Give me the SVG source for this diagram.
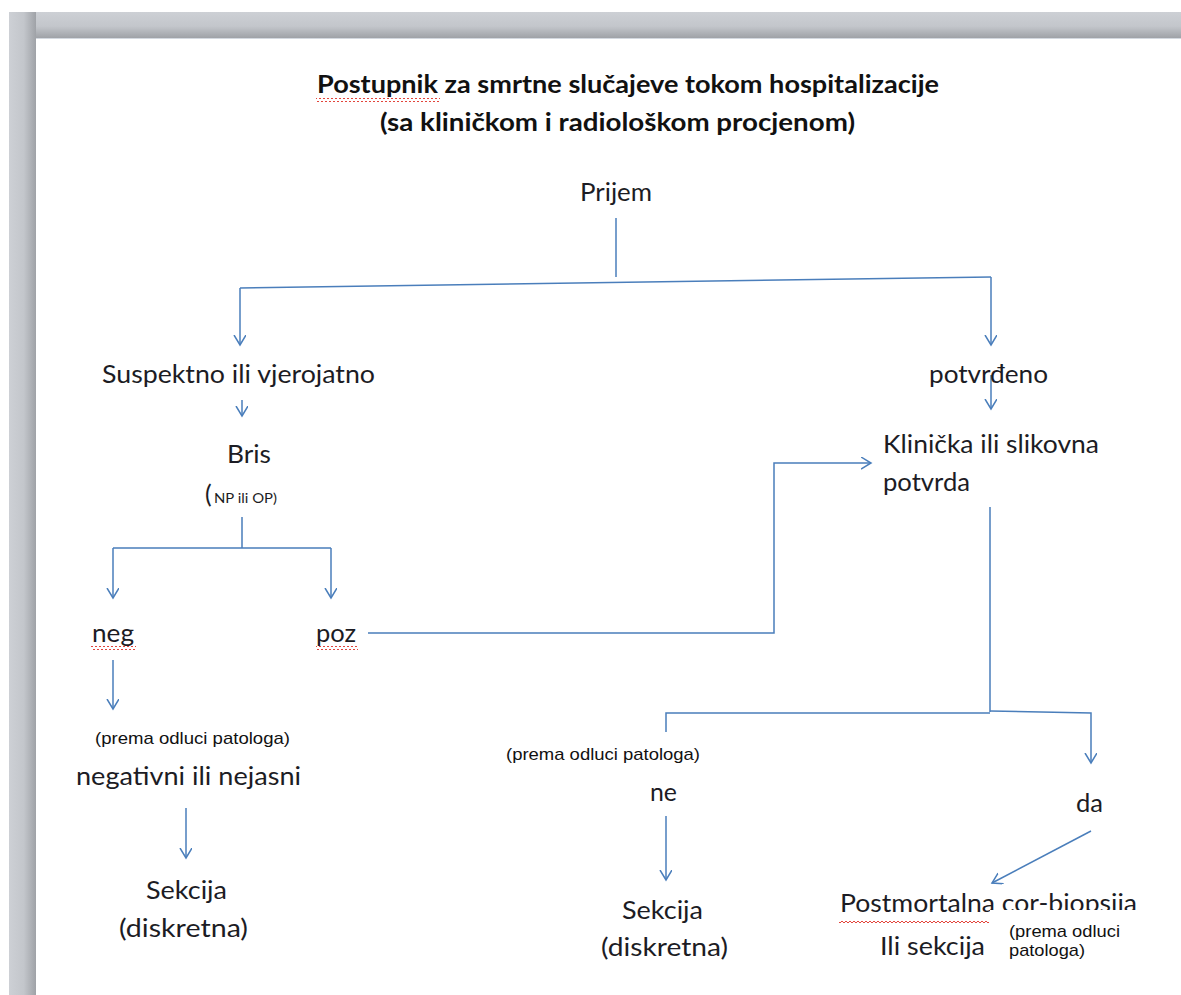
<svg xmlns="http://www.w3.org/2000/svg" width="1181" height="995" viewBox="0 0 1181 995">
<defs>
<linearGradient id="gTop" x1="0" y1="0" x2="0" y2="1">
<stop offset="0" stop-color="#cdd0d5"/><stop offset="0.55" stop-color="#c3c6cb"/><stop offset="1" stop-color="#9fa2a7"/>
</linearGradient>
<linearGradient id="gLeft" x1="0" y1="0" x2="1" y2="0">
<stop offset="0" stop-color="#cdd0d5"/><stop offset="0.55" stop-color="#c3c6cb"/><stop offset="1" stop-color="#9fa2a7"/>
</linearGradient>
<pattern id="wavy" width="4" height="4" patternUnits="userSpaceOnUse">
<path d="M0,3 L2,1 L4,3" fill="none" stroke="#e2453c" stroke-width="1"/>
</pattern>
<marker id="ah" markerWidth="14" markerHeight="14" refX="10" refY="6" orient="auto" markerUnits="userSpaceOnUse">
<path d="M0,0 L10,6 L0,12" fill="none" stroke="#4a7ebb" stroke-width="1.5"/>
</marker>
<style>
.t{font-family:Lato,"Open Sans","Liberation Sans",sans-serif;font-size:25px;fill:#1c1c24}
.tb{font-family:Lato,"Open Sans","Liberation Sans",sans-serif;font-size:25px;font-weight:bold;fill:#111}
.a{font-family:"Liberation Sans",Arial,sans-serif;font-size:17px;fill:#111}
.s{font-family:Lato,"Open Sans","Liberation Sans",sans-serif;font-size:13px;fill:#1c1c24}
.c{fill:none;stroke:#4a7ebb;stroke-width:1.5}
.c2{fill:none;stroke:#4a7ebb;stroke-width:1.5;marker-end:url(#ah)}
.w{fill:url(#wavy)}
</style>
</defs>
<rect x="0" y="0" width="1181" height="995" fill="#ffffff"/>
<g id="page-frame">
<rect x="9" y="12" width="1172" height="26" fill="url(#gTop)"/>
<rect x="9" y="12" width="27" height="983" fill="url(#gLeft)"/>
<rect x="36" y="38" width="1145" height="957" fill="#ffffff"/>
<line x1="36" y1="38.5" x2="1181" y2="38.5" stroke="#d3d8df" stroke-width="1"/>
</g>
<g id="title">
<text class="tb" x="317" y="93" textLength="622" lengthAdjust="spacingAndGlyphs">Postupnik za smrtne slučajeve tokom hospitalizacije</text>
<rect class="w" x="316" y="98" width="124" height="4"/>
<text class="tb" x="380" y="131" textLength="475" lengthAdjust="spacingAndGlyphs">(sa kliničkom i radiološkom procjenom)</text>
</g>
<g id="connectors">
<path class="c" d="M616,218 V277"/>
<path class="c" d="M240,288 L991,277"/>
<path class="c2" d="M240,288 V345"/>
<path class="c2" d="M991,277 V345"/>
<path class="c2" d="M242,400 V416"/>
<path class="c2" d="M991,375 V409"/>
<path class="c" d="M242,517 V548 M113,548 H331"/>
<path class="c2" d="M113,548 V598"/>
<path class="c2" d="M331,548 V598"/>
<path class="c2" d="M368,633 H774 V463 H871"/>
<path class="c" d="M990,507 V712 M666,732 V713 H990"/>
<path class="c2" d="M990,711 L1091,713 V763"/>
<path class="c2" d="M113,660 V709"/>
<path class="c2" d="M186,808 V858"/>
<path class="c2" d="M666,816 V880"/>
<path class="c2" d="M1091,831 L992,883"/>
</g>
<g id="node-prijem"><text class="t" x="580" y="201" textLength="72" lengthAdjust="spacingAndGlyphs">Prijem</text></g>
<g id="node-suspektno"><text class="t" x="102" y="383" textLength="273" lengthAdjust="spacingAndGlyphs">Suspektno ili vjerojatno</text></g>
<g id="node-potvrdeno"><text class="t" x="929" y="383" textLength="119" lengthAdjust="spacingAndGlyphs">potvrđeno</text></g>
<g id="node-bris">
<text class="t" x="227" y="463" textLength="44" lengthAdjust="spacingAndGlyphs">Bris</text>
<text class="t" x="205" y="503">(</text>
<text class="s" x="214" y="503" textLength="63" lengthAdjust="spacingAndGlyphs">NP ili OP)</text>
</g>
<g id="node-klinicka">
<text class="t" x="883" y="453" textLength="216" lengthAdjust="spacingAndGlyphs">Klinička ili slikovna</text>
<text class="t" x="883" y="491" textLength="87" lengthAdjust="spacingAndGlyphs">potvrda</text>
</g>
<g id="node-neg">
<text class="t" x="92" y="642" textLength="42" lengthAdjust="spacingAndGlyphs">neg</text>
<rect class="w" x="91" y="646" width="45" height="4"/>
</g>
<g id="node-poz">
<text class="t" x="316" y="642" textLength="40" lengthAdjust="spacingAndGlyphs">poz</text>
<rect class="w" x="316" y="646" width="42" height="4"/>
</g>
<g id="node-negativni">
<text class="a" x="95" y="744" textLength="195" lengthAdjust="spacingAndGlyphs">(prema odluci patologa)</text>
<text class="t" x="76" y="785" textLength="225" lengthAdjust="spacingAndGlyphs">negativni ili nejasni</text>
</g>
<g id="node-sekcija-left">
<text class="t" x="146" y="899" textLength="81" lengthAdjust="spacingAndGlyphs">Sekcija</text>
<text class="t" x="119" y="937" textLength="129" lengthAdjust="spacingAndGlyphs">(diskretna)</text>
</g>
<g id="node-ne">
<text class="a" x="506" y="760" textLength="194" lengthAdjust="spacingAndGlyphs">(prema odluci patologa)</text>
<text class="t" x="650" y="801" textLength="27" lengthAdjust="spacingAndGlyphs">ne</text>
</g>
<g id="node-da"><text class="t" x="1076" y="812" textLength="27" lengthAdjust="spacingAndGlyphs">da</text></g>
<g id="node-sekcija-mid">
<text class="t" x="622" y="919" textLength="81" lengthAdjust="spacingAndGlyphs">Sekcija</text>
<text class="t" x="601" y="956" textLength="127" lengthAdjust="spacingAndGlyphs">(diskretna)</text>
</g>
<g id="node-postmortalna">
<text class="t" x="840" y="912" textLength="297" lengthAdjust="spacingAndGlyphs">Postmortalna cor-biopsija</text>
<rect class="w" x="839" y="920" width="150" height="4"/>
<rect x="990" y="910" width="150" height="60" fill="#ffffff"/>
<text class="t" x="880" y="955" textLength="105" lengthAdjust="spacingAndGlyphs">Ili sekcija</text>
<text class="a" x="1009" y="937" font-size="16" textLength="111" lengthAdjust="spacingAndGlyphs">(prema odluci</text>
<text class="a" x="1009" y="956" font-size="16" textLength="76" lengthAdjust="spacingAndGlyphs">patologa)</text>
</g>
</svg>
